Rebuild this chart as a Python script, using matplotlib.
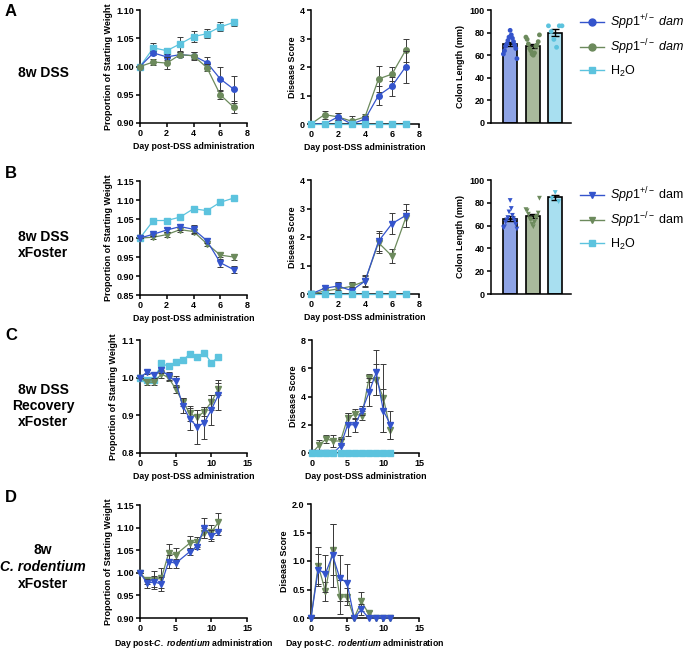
import numpy as np
import matplotlib
matplotlib.use('Agg')
import matplotlib.pyplot as plt
from matplotlib.lines import Line2D

plt.rcParams['font.family'] = ['Liberation Sans', 'DejaVu Sans']
plt.rcParams['mathtext.fontset'] = 'custom'
plt.rcParams['mathtext.rm'] = 'Liberation Sans'
plt.rcParams['mathtext.it'] = 'Liberation Sans:italic'
plt.rcParams['mathtext.bf'] = 'Liberation Sans:bold'
plt.rcParams['mathtext.bfit'] = 'Liberation Sans:italic:bold'
plt.rcParams['axes.labelweight'] = 'bold'

# ---------------- DATA ----------------
days8 = [0, 1, 2, 3, 4, 5, 6, 7]
days12 = [0, 1, 2, 3, 4, 5, 6, 7, 8, 9, 10, 11]
daysD = [0, 1, 2, 3, 4, 5, 7, 8, 9, 10, 11]

# Panel A weight
A_w_het = [1.000, 1.024, 1.017, 1.021, 1.019, 1.007, 0.978, 0.960]
A_w_het_err = [0.0, 0.004, 0.005, 0.005, 0.007, 0.010, 0.021, 0.024]
A_w_ko = [1.000, 1.008, 1.006, 1.021, 1.019, 0.998, 0.950, 0.928]
A_w_ko_err = [0.0, 0.006, 0.010, 0.005, 0.006, 0.006, 0.008, 0.011]
A_w_h2o = [1.000, 1.033, 1.028, 1.040, 1.053, 1.058, 1.070, 1.078]
A_w_h2o_err = [0.0, 0.008, 0.005, 0.012, 0.010, 0.008, 0.008, 0.006]
# Panel A disease
A_d_het = [0, 0, 0.25, 0, 0.17, 1.0, 1.33, 2.0]
A_d_het_err = [0, 0, 0.12, 0.05, 0.12, 0.35, 0.33, 0.55]
A_d_ko = [0, 0.33, 0.25, 0.10, 0.25, 1.58, 1.75, 2.58]
A_d_ko_err = [0, 0.14, 0.12, 0.17, 0.10, 0.47, 0.25, 0.40]
A_d_h2o = [0, 0, 0, 0, 0, 0, 0, 0]
# Panel A colon length points
A_c_het = [82, 78, 76, 75, 73, 72, 70, 69, 68, 66, 64, 61, 57]
A_c_ko = [78, 76, 74, 72, 70, 69, 68, 66, 64, 62, 60, 61]
A_c_h2o = [86, 86, 86, 81, 74, 67]

# Panel B weight
B_w_het = [1.000, 1.010, 1.021, 1.030, 1.023, 0.993, 0.935, 0.917]
B_w_het_err = [0.0, 0.004, 0.005, 0.008, 0.010, 0.006, 0.010, 0.010]
B_w_ko = [1.000, 1.002, 1.009, 1.022, 1.017, 0.985, 0.955, 0.950]
B_w_ko_err = [0.0, 0.004, 0.007, 0.006, 0.006, 0.006, 0.006, 0.009]
B_w_h2o = [1.000, 1.046, 1.046, 1.055, 1.077, 1.072, 1.094, 1.105]
# Panel B disease
B_d_het = [0, 0.20, 0.28, 0.12, 0.45, 1.85, 2.47, 2.75]
B_d_het_err = [0, 0.10, 0.15, 0.12, 0.20, 0.35, 0.37, 0.40]
B_d_ko = [0, 0.10, 0.18, 0.27, 0.45, 1.80, 1.33, 2.65]
B_d_ko_err = [0, 0.10, 0.15, 0.15, 0.17, 0.35, 0.25, 0.30]
B_d_h2o = [0, 0, 0, 0, 0, 0, 0, 0]
# Panel B colon length points
B_c_het = [82, 75, 72, 69, 67, 66, 65, 64, 63, 61, 59, 57, 58]
B_c_ko = [84, 74, 73, 71, 70, 68, 67, 66, 65, 63, 61, 59]
B_c_h2o = [89, 84, 81]

# Panel C weight
C_w_het = [1.000, 1.015, 1.008, 1.020, 1.005, 0.990, 0.925, 0.890, 0.870, 0.880, 0.915, 0.955]
C_w_het_err = [0.0, 0.005, 0.008, 0.008, 0.010, 0.015, 0.020, 0.030, 0.045, 0.042, 0.040, 0.040]
C_w_ko = [1.000, 0.988, 0.988, 1.010, 1.000, 0.970, 0.935, 0.905, 0.895, 0.910, 0.935, 0.970]
C_w_ko_err = [0.0, 0.008, 0.008, 0.010, 0.010, 0.010, 0.010, 0.020, 0.020, 0.012, 0.020, 0.015]
C_w_h2o = [1.000, 0.995, 0.995, 1.038, 1.030, 1.042, 1.046, 1.063, 1.055, 1.066, 1.040, 1.055]
# Panel C disease
C_d_het = [0, 0, 0, 0, 0.5, 2.0, 2.0, 3.0, 4.3, 5.7, 3.0, 2.0]
C_d_het_err = [0, 0, 0, 0, 0.5, 0.8, 0.5, 0.3, 1.0, 1.6, 1.5, 1.0]
C_d_ko = [0, 0.55, 1.0, 0.85, 0.85, 2.5, 2.75, 2.65, 5.3, 5.2, 3.9, 1.6]
C_d_ko_err = [0, 0.40, 0.30, 0.40, 0.30, 0.30, 0.35, 0.30, 0.30, 1.10, 2.40, 0.60]
C_d_h2o = [0, 0, 0, 0, 0, 0, 0, 0, 0, 0, 0, 0]

# Panel D weight (no day 6)
D_w_het = [1.000, 0.977, 0.980, 0.975, 1.025, 1.021, 1.047, 1.058, 1.100, 1.082, 1.091]
D_w_het_err = [0.0, 0.010, 0.012, 0.015, 0.015, 0.010, 0.008, 0.006, 0.022, 0.012, 0.007]
D_w_ko = [1.000, 0.983, 0.985, 0.988, 1.043, 1.040, 1.066, 1.068, 1.088, 1.090, 1.112]
D_w_ko_err = [0.0, 0.008, 0.020, 0.022, 0.020, 0.015, 0.015, 0.012, 0.012, 0.015, 0.020]
# Panel D disease
D_d_het = [0, 0.85, 0.78, 1.10, 0.70, 0.62, 0, 0.15, 0, 0, 0, 0]
D_d_het_err = [0, 0.28, 0.32, 0.55, 0.40, 0.32, 0, 0.10, 0, 0, 0, 0]
D_d_ko = [0, 0.92, 0.47, 1.20, 0.37, 0.37, 0, 0.29, 0.08, 0, 0, 0]
D_d_ko_err = [0, 0.33, 0.17, 0.45, 0.30, 0.15, 0, 0.17, 0.05, 0, 0, 0]

# ---------------- STYLE ----------------
BLUE = '#3454cc'
GREEN = '#6c8a5c'
LBLUE = '#5cc3de'
BAR_FILL = ['#8ea3e6', '#a9b99c', '#a8dff0']
ERR = '#3a3a3a'

W, H = 686, 651
fig = plt.figure(figsize=(W / 100, H / 100), dpi=100)


def add_ax(l, t, r, b):
    return fig.add_axes([l / W, 1 - b / H, (r - l) / W, (b - t) / H])


def style(ax, fmt=None):
    for s in ['top', 'right']:
        ax.spines[s].set_visible(False)
    for s in ['left', 'bottom']:
        ax.spines[s].set_linewidth(1.1)
    ax.tick_params(width=1.1, length=3, labelsize=6.5, pad=1.5)
    if fmt:
        ax.set_yticklabels([fmt.format(v) for v in ax.get_yticks()])
    for lab in ax.get_xticklabels() + ax.get_yticklabels():
        lab.set_fontweight('bold')


def series(ax, x, y, err, color, marker, ms=4, z=3):
    if err is None:
        ax.plot(x, y, color=color, marker=marker, ms=ms, lw=0.9, clip_on=False, zorder=z)
    else:
        ax.errorbar(x, y, yerr=err, color=color, marker=marker, ms=ms, lw=0.9,
                    ecolor=ERR, elinewidth=0.7, capsize=2, capthick=0.7,
                    clip_on=False, zorder=z)


def line_panel(ax, data, xlim, xticks, ylim, yticks, fmt, ylabel, xlabel):
    for (x, y, err, color, marker, z) in data:
        series(ax, x, y, err, color, marker, z=z)
    ax.set_xlim(*xlim)
    ax.set_ylim(*ylim)
    ax.set_xticks(xticks)
    ax.set_yticks(yticks)
    ax.set_ylabel(ylabel, fontsize=6.5, labelpad=2)
    ax.set_xlabel(xlabel, fontsize=6.3, labelpad=3)
    style(ax, fmt)


def colon_panel(ax, groups, marker):
    for i, pts in enumerate(groups):
        pts = np.asarray(pts, float)
        m = pts.mean()
        sem = pts.std(ddof=1) / np.sqrt(len(pts))
        ax.bar(i, m, width=0.62, color=BAR_FILL[i], edgecolor='black', lw=1.2, zorder=1)
        ax.errorbar(i, m, yerr=sem, color='black', lw=0, elinewidth=1.0, capsize=3,
                    capthick=1.0, zorder=2)
        n = len(pts)
        order = np.argsort(-pts)
        offs = np.zeros(n)
        spread = np.linspace(-0.3, 0.3, n) if n > 3 else np.linspace(-0.15, 0.15, n)
        alt = np.array([spread[k] for k in np.argsort(np.abs(spread))])
        offs[order] = alt[::-1] if n % 2 == 0 else alt
        ax.scatter(i + offs, pts, s=12, marker=marker, color=[BLUE, GREEN, LBLUE][i],
                   edgecolors='none', zorder=3)
    ax.set_xlim(-0.85, 2.7)
    ax.set_ylim(0, 100)
    ax.set_xticks([])
    ax.set_yticks([0, 20, 40, 60, 80, 100])
    ax.set_ylabel('Colon Length (mm)', fontsize=6.5, labelpad=3)
    style(ax)


W_LABEL = 'Proportion of Starting Weight'
D_LABEL = 'Disease Score'
DSS_X = 'Day post-DSS administration'
CR_X = r'Day post-$\mathbfit{C.\ rodentium}$ administration'

# Row A
ax = add_ax(140, 10, 247, 123)
line_panel(ax, [(days8, A_w_h2o, A_w_h2o_err, LBLUE, 's', 3),
                (days8, A_w_het, A_w_het_err, BLUE, 'o', 4),
                (days8, A_w_ko, A_w_ko_err, GREEN, 'o', 5)],
           (0, 8), [0, 2, 4, 6, 8], (0.90, 1.10), [0.90, 0.95, 1.00, 1.05, 1.10], '{:.2f}',
           W_LABEL, DSS_X)
ax = add_ax(311, 10, 419, 124)
line_panel(ax, [(days8, A_d_ko, A_d_ko_err, GREEN, 'o', 3),
                (days8, A_d_het, A_d_het_err, BLUE, 'o', 4),
                (days8, A_d_h2o, None, LBLUE, 's', 5)],
           (0, 8), [0, 2, 4, 6, 8], (0, 4), [0, 1, 2, 3, 4], '{:.0f}',
           D_LABEL, DSS_X)
ax = add_ax(491, 10, 571, 123)
colon_panel(ax, [A_c_het, A_c_ko, A_c_h2o], 'o')

# Row B
ax = add_ax(140, 181, 247, 295)
line_panel(ax, [(days8, B_w_h2o, None, LBLUE, 's', 3),
                (days8, B_w_ko, B_w_ko_err, GREEN, 'v', 4),
                (days8, B_w_het, B_w_het_err, BLUE, 'v', 5)],
           (0, 8), [0, 2, 4, 6, 8], (0.85, 1.15), [0.85, 0.90, 0.95, 1.00, 1.05, 1.10, 1.15],
           '{:.2f}', W_LABEL, DSS_X)
ax = add_ax(311, 180, 419, 294)
line_panel(ax, [(days8, B_d_ko, B_d_ko_err, GREEN, 'v', 3),
                (days8, B_d_het, B_d_het_err, BLUE, 'v', 4),
                (days8, B_d_h2o, None, LBLUE, 's', 5)],
           (0, 8), [0, 2, 4, 6, 8], (0, 4), [0, 1, 2, 3, 4], '{:.0f}',
           D_LABEL, DSS_X)
ax = add_ax(491, 180, 571, 294)
colon_panel(ax, [B_c_het, B_c_ko, B_c_h2o], 'v')

# Row C
ax = add_ax(140, 340, 247, 453)
line_panel(ax, [(days12, C_w_h2o, None, LBLUE, 's', 3),
                (days12, C_w_ko, C_w_ko_err, GREEN, 'v', 4),
                (days12, C_w_het, C_w_het_err, BLUE, 'v', 5)],
           (0, 15), [0, 5, 10, 15], (0.8, 1.1), [0.8, 0.9, 1.0, 1.1], '{:.1f}',
           W_LABEL, DSS_X)
ax = add_ax(312, 340, 419, 453)
line_panel(ax, [(days12, C_d_ko, C_d_ko_err, GREEN, 'v', 3),
                (days12, C_d_het, C_d_het_err, BLUE, 'v', 4),
                (days12, C_d_h2o, None, LBLUE, 's', 5)],
           (0, 15), [0, 5, 10, 15], (0, 8), [0, 2, 4, 6, 8], '{:.0f}',
           D_LABEL, DSS_X)

# Row D
ax = add_ax(140, 505, 247, 618)
line_panel(ax, [(daysD, D_w_ko, D_w_ko_err, GREEN, 'v', 4),
                (daysD, D_w_het, D_w_het_err, BLUE, 'v', 5)],
           (0, 15), [0, 5, 10, 15], (0.90, 1.15), [0.90, 0.95, 1.00, 1.05, 1.10, 1.15],
           '{:.2f}', W_LABEL, CR_X)
ax = add_ax(311, 504, 419, 618)
line_panel(ax, [(days12, D_d_ko, D_d_ko_err, GREEN, 'v', 4),
                (days12, D_d_het, D_d_het_err, BLUE, 'v', 5)],
           (0, 15), [0, 5, 10, 15], (0, 2.0), [0, 0.5, 1.0, 1.5, 2.0], '{:.1f}',
           D_LABEL, CR_X)

# Legends
LEG_KW = dict(loc='upper left', frameon=False, fontsize=9, handlelength=1.9,
              handletextpad=0.5, labelspacing=0.5, borderaxespad=0, borderpad=0)
hA = [Line2D([], [], color=BLUE, marker='o', ms=5, lw=1),
      Line2D([], [], color=GREEN, marker='o', ms=5, lw=1),
      Line2D([], [], color=LBLUE, marker='s', ms=5, lw=1)]
lA = [r'$\it{Spp1}^{+/-}$ $\it{dam}$', r'$\it{Spp1}^{-/-}$ $\it{dam}$', r'H$_2$O']
fig.legend(hA, lA, bbox_to_anchor=(580 / W, 1 - 12 / H), **LEG_KW)
hB = [Line2D([], [], color=BLUE, marker='v', ms=5, lw=1),
      Line2D([], [], color=GREEN, marker='v', ms=5, lw=1),
      Line2D([], [], color=LBLUE, marker='s', ms=5, lw=1)]
lB = [r'$\it{Spp1}^{+/-}$ dam', r'$\it{Spp1}^{-/-}$ dam', r'H$_2$O']
fig.legend(hB, lB, bbox_to_anchor=(580 / W, 1 - 185 / H), **LEG_KW)

# Panel letters and row labels
for letter, y in [('A', 12), ('B', 174), ('C', 336), ('D', 497)]:
    fig.text(5 / W, 1 - y / H, letter, fontsize=12, fontweight='bold', va='center', ha='left')

RL = dict(fontsize=10, fontweight='bold', ha='center', va='center')
fig.text(43 / W, 1 - 73 / H, '8w DSS', **RL)
fig.text(43 / W, 1 - 245 / H, '8w DSS\nxFoster', linespacing=1.2, **RL)
fig.text(43 / W, 1 - 406 / H, '8w DSS\nRecovery\nxFoster', linespacing=1.2, **RL)
fig.text(43 / W, 1 - 550 / H, '8w', **RL)
fig.text(43 / W, 1 - 567 / H, 'C. rodentium', style='italic', **RL)
fig.text(43 / W, 1 - 584 / H, 'xFoster', **RL)

fig.savefig('out.png', dpi=100)
